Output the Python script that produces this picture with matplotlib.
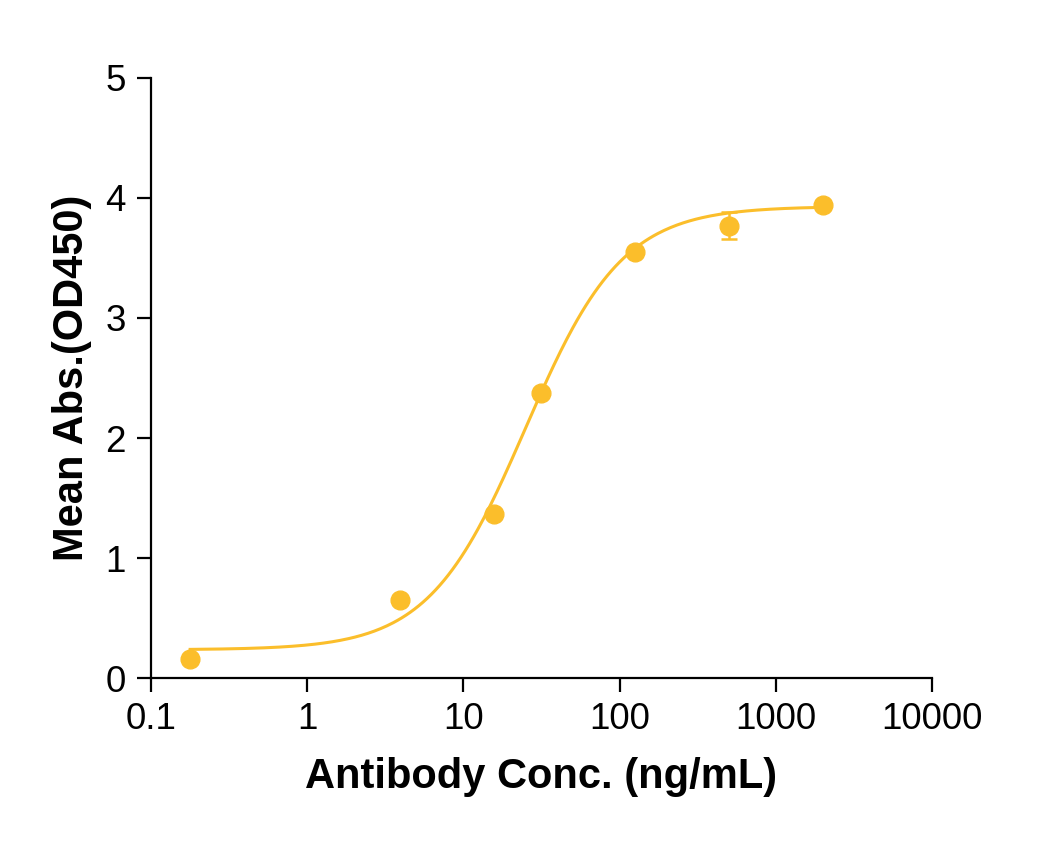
import numpy as np
import matplotlib
matplotlib.use("Agg")
import matplotlib.pyplot as plt
from matplotlib.ticker import FixedLocator, NullLocator

plt.rcParams['font.family'] = ['Liberation Sans', 'DejaVu Sans']

# measured points
conc = [0.178, 3.9, 15.6, 31.25, 125, 500, 2000]
mean_abs = [0.16, 0.65, 1.37, 2.375, 3.55, 3.77, 3.94]
sd_abs = [0.0, 0.0, 0.0, 0.0, 0.0, 0.11, 0.0]

# 4PL fit parameters (bottom, top, EC50, hill)
fit_bottom = 0.235
fit_top = 3.93
fit_ec50 = 25.0
fit_hill = 1.4

xticks = [0.1, 1, 10, 100, 1000, 10000]
xtick_labels = ["0.1", "1", "10", "100", "1000", "10000"]
yticks = [0, 1, 2, 3, 4, 5]

color = "#FBBE2B"

fig = plt.figure(figsize=(10.57, 8.43), dpi=100)
ax = fig.add_axes([0.1429, 0.1957, 0.8817 - 0.1429, 0.9075 - 0.1957])

xfit = np.logspace(np.log10(min(conc)), np.log10(max(conc)), 300)
yfit = fit_top + (fit_bottom - fit_top) / (1 + (xfit / fit_ec50) ** fit_hill)
ax.plot(xfit, yfit, color=color, lw=2.2, zorder=2)

ax.errorbar(conc, mean_abs, yerr=sd_abs, fmt="o", color=color, ms=13.5,
            elinewidth=1.8, capsize=6, capthick=1.8, zorder=3)

ax.set_xscale("log")
ax.set_xlim(0.1, 10000)
ax.set_ylim(0, 5)
ax.xaxis.set_major_locator(FixedLocator(xticks))
ax.xaxis.set_minor_locator(NullLocator())
ax.set_xticks(xticks)
ax.set_xticklabels(xtick_labels)
ax.set_yticks(yticks)

for s in ["top", "right"]:
    ax.spines[s].set_visible(False)
for s in ["left", "bottom"]:
    ax.spines[s].set_linewidth(1.6)
ax.tick_params(axis="both", which="major", length=10, width=1.6,
               labelsize=26.5)
ax.tick_params(axis="x", pad=7)
ax.tick_params(axis="y", pad=8)

ax.set_xlabel("Antibody Conc. (ng/mL)", fontsize=30, fontweight="bold", labelpad=15)
ax.set_ylabel("Mean Abs.(OD450)", fontsize=30, fontweight="bold", labelpad=10)

fig.savefig("out.png", dpi=100)
